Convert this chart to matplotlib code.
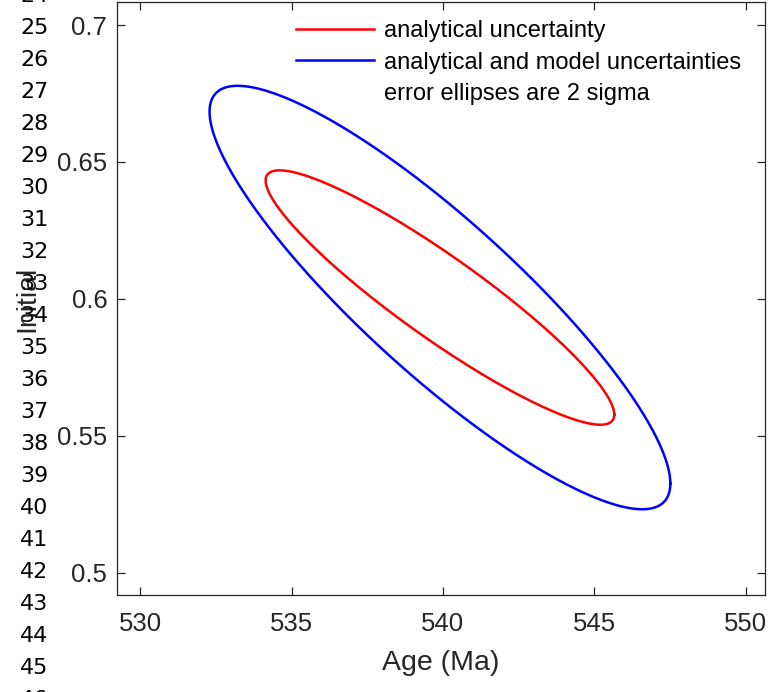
import numpy as np
import matplotlib
matplotlib.use("Agg")
import matplotlib.pyplot as plt
from matplotlib.lines import Line2D
from matplotlib.ticker import FormatStrFormatter

# best estimate (age, initial) and 1-sigma uncertainties + correlation
center_age = 539.90
center_initial = 0.6005
# analytical uncertainty only
sig_age_a, sig_init_a, rho_a = 2.880, 0.02322, -0.92
# analytical and model uncertainties
sig_age_m, sig_init_m, rho_m = 3.806, 0.03865, -0.878
nsig = 2

xticks = [530, 535, 540, 545, 550]
yticks = [0.5, 0.55, 0.6, 0.65, 0.7]
legend_labels = ["analytical uncertainty",
                 "analytical and model uncertainties",
                 "error ellipses are 2 sigma"]
line_numbers = list(range(24, 47))


def ellipse(cx, cy, sx, sy, rho, k=2, n=400):
    t = np.linspace(0, 2 * np.pi, n)
    x = cx + k * sx * np.cos(t)
    y = cy + k * sy * (rho * np.cos(t) + np.sqrt(1 - rho ** 2) * np.sin(t))
    return x, y


plt.rcParams["font.family"] = ["Liberation Sans", "DejaVu Sans"]
W, H = 770, 692
fig = plt.figure(figsize=(W / 100, H / 100), dpi=100)

# editor line numbers bleeding in on the left
for n in line_numbers:
    ypx = 26 + (n - 25) * 32.0
    fig.text(34.5 / W, 1 - ypx / H, str(n), ha="center", va="center_baseline",
             fontsize=16, family="DejaVu Sans", color="black")

ax = fig.add_axes([117 / W, 97 / H, 648 / W, 593 / H])

xa, ya = ellipse(center_age, center_initial, sig_age_a, sig_init_a, rho_a, nsig)
xm, ym = ellipse(center_age, center_initial, sig_age_m, sig_init_m, rho_m, nsig)
ax.plot(xa, ya, color=(1, 0, 0), lw=1.8)
ax.plot(xm, ym, color=(0, 0, 1), lw=1.8)

ax.set_xlim(529.23, 550.64)
ax.set_ylim(0.4919, 0.7084)
ax.set_xticks(xticks)
ax.set_yticks(yticks)
ax.yaxis.set_major_formatter(FormatStrFormatter("%g"))
ax.tick_params(direction="in", length=6, width=0.9, top=True, right=True,
               labelsize=18.5, colors="#262626")
ax.tick_params(axis="x", pad=12.5)
ax.tick_params(axis="y", pad=7)
for s in ax.spines.values():
    s.set_color("#262626")
    s.set_linewidth(0.9)

ax.set_xlabel("Age (Ma)", fontsize=20.5, color="#262626")
ax.set_ylabel("Initial", fontsize=20.5, color="#262626")
ax.xaxis.set_label_coords(0.5, -0.093)
ax.yaxis.set_label_coords(-0.119, 0.5)

handles = [Line2D([], [], color=(1, 0, 0), lw=1.8),
           Line2D([], [], color=(0, 0, 1), lw=1.8),
           Line2D([], [], color="none")]
ax.legend(handles, legend_labels, loc="upper left", frameon=False,
          fontsize=17, handlelength=3.3, handletextpad=0.4,
          labelspacing=0.39, borderaxespad=0,
          bbox_to_anchor=((287 - 117) / 648, 1 - 9 / 593))

fig.savefig("out.png", dpi=100)
